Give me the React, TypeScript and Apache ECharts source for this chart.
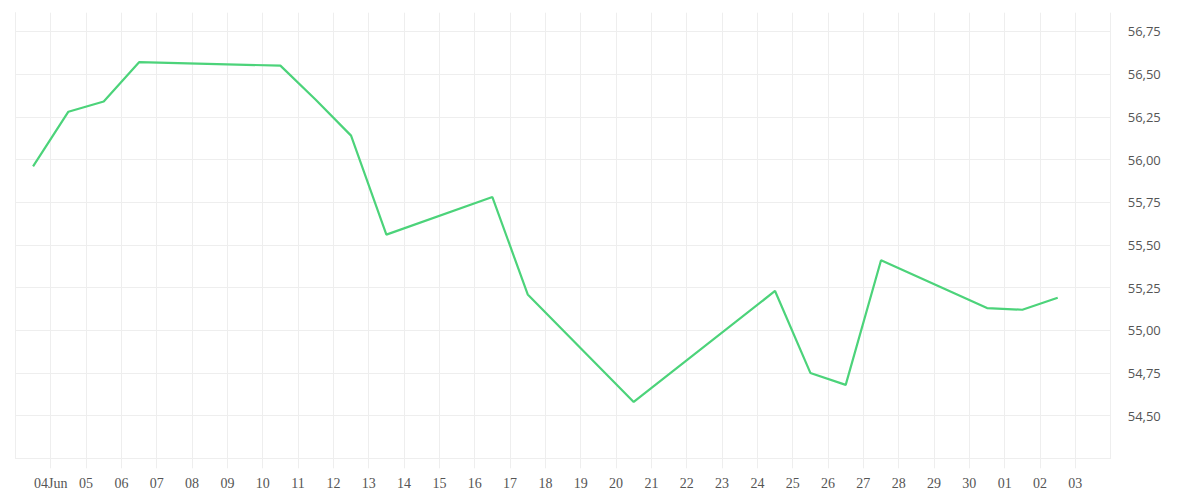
import React, { useEffect, useRef } from "react";
import * as echarts from "echarts";

// Observation dates (points sit at mid-day of each date)
const dates = [
  "2024-06-03", "2024-06-04", "2024-06-05", "2024-06-06",
  "2024-06-10", "2024-06-11", "2024-06-12", "2024-06-13",
  "2024-06-16", "2024-06-17", "2024-06-20", "2024-06-24",
  "2024-06-25", "2024-06-26", "2024-06-27", "2024-06-30",
  "2024-07-01", "2024-07-02",
];
const values = [
  55.96, 56.28, 56.34, 56.57,
  56.55, 56.35, 56.14, 55.56,
  55.78, 55.21, 54.58, 55.23,
  54.75, 54.68, 55.41, 55.13,
  55.12, 55.19,
];
// Axis start (June 3, 00:00) and x tick labels for June 4 .. July 3
const axisStart = "2024-06-03";
const axisDays = 31;
const xTickLabels = [
  "04Jun", "05", "06", "07", "08", "09", "10", "11", "12", "13",
  "14", "15", "16", "17", "18", "19", "20", "21", "22", "23",
  "24", "25", "26", "27", "28", "29", "30", "01", "02", "03",
];
const yMin = 54.25;
const yMax = 56.86;
const yStep = 0.25;

const DAY = 86400000;
const dayOffset = (d: string) =>
  (Date.parse(d + "T00:00:00Z") - Date.parse(axisStart + "T00:00:00Z")) / DAY;

export default function App() {
  const ref = useRef<HTMLDivElement>(null);
  useEffect(() => {
    if (!ref.current) return;
    const chart = echarts.init(ref.current, undefined, { renderer: "svg" });
    const grid = "#eeeeee";
    chart.setOption({
      animation: false,
      backgroundColor: "#ffffff",
      grid: { left: 15.4, right: 89.3, top: 12.7, bottom: 41.7 },
      xAxis: {
        type: "value",
        min: 0,
        max: axisDays,
        interval: 1,
        axisLine: { show: true, lineStyle: { color: grid, width: 1 } },
        axisTick: { show: true, length: 10, lineStyle: { color: grid } },
        splitLine: { show: true, lineStyle: { color: grid, width: 1 } },
        axisLabel: {
          margin: 18,
          color: "#555555",
          fontFamily: "Liberation Serif",
          fontSize: 14,
          showMinLabel: false,
          showMaxLabel: false,
          formatter: (v: number) => {
            const i = Math.round(v);
            return i >= 1 && i <= xTickLabels.length ? xTickLabels[i - 1] : "";
          },
        },
      },
      yAxis: {
        type: "value",
        position: "right",
        min: yMin,
        max: yMax,
        interval: yStep,
        axisLine: { show: true, lineStyle: { color: grid, width: 1 } },
        axisTick: { show: false },
        splitLine: {
          show: true,
          showMaxLine: false,
          lineStyle: { color: grid, width: 1 },
        },
        axisLabel: {
          margin: 17,
          color: "#555555",
          fontFamily: "Open Sans",
          fontSize: 13,
          formatter: (v: number) => {
            if (Math.abs(v - yMin) < 1e-6 || v > 56.8) return "";
            return v.toFixed(2).replace(".", ",");
          },
        },
      },
      series: [
        {
          type: "line",
          data: dates.map((d, i) => [dayOffset(d) + 0.5, values[i]]),
          showSymbol: false,
          symbol: "none",
          lineStyle: { color: "#4cd37a", width: 2.2 },
          itemStyle: { color: "#4cd37a" },
        },
      ],
    });
    return () => chart.dispose();
  }, []);
  return (
    <div
      ref={ref}
      style={{ position: "absolute", left: 0, top: 0, width: 1200, height: 500 }}
    />
  );
}
